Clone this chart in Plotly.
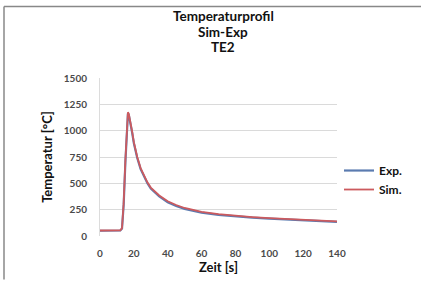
import plotly.graph_objects as go

time_s = [0, 5, 10, 12, 13, 14, 15, 16, 16.5, 17, 18, 19, 20, 22, 24, 26, 28, 30, 35, 40, 45, 50, 60, 70, 80, 90, 100, 110, 120, 130, 140]
exp_temp = [50, 50, 50, 52, 70, 300, 700, 1050, 1165, 1150, 1080, 980, 880, 740, 635, 560, 500, 450, 375, 320, 285, 258, 222, 200, 185, 174, 165, 157, 149, 142, 135]
sim_temp = [52, 52, 52, 54, 75, 320, 720, 1060, 1175, 1160, 1090, 990, 890, 750, 645, 570, 510, 460, 385, 330, 294, 266, 230, 207, 191, 180, 170, 161, 153, 146, 139]

title_lines = ["Temperaturprofil", "Sim-Exp", "TE2"]
x_ticks = [0, 20, 40, 60, 80, 100, 120, 140]
y_ticks = [0, 250, 500, 750, 1000, 1250, 1500]

W, H = 422, 282
L, R, T, B = 100, 337, 78, 238

def px(x):
    return (x - L) / (R - L)

def py(y):
    return (B - y) / (B - T)

fig = go.Figure()
fig.add_trace(go.Scatter(x=time_s, y=exp_temp, name="Exp.", mode="lines",
                         line=dict(color="#5b7bb0", width=2.2)))
fig.add_trace(go.Scatter(x=time_s, y=sim_temp, name="Sim.", mode="lines",
                         line=dict(color="#cc5a5e", width=1.8)))

tick_font = dict(family="Lato, Open Sans, sans-serif", size=10, color="#4a4a4a", weight="bold")
fig.update_xaxes(range=[0, 140], tickvals=x_ticks, showgrid=False, zeroline=False,
                 showline=False, ticks="", tickfont=tick_font, ticklabelstandoff=10,
                 title=dict(text="<b>Zeit [s]</b>", font=dict(family="Lato, sans-serif", size=13, color="#111"), standoff=2))
fig.update_yaxes(range=[0, 1500], tickvals=y_ticks, showgrid=True, gridcolor="#dadada", gridwidth=1,
                 zeroline=False, showline=True, linecolor="#dcdcdc", linewidth=1, ticks="",
                 tickfont=tick_font, ticklabelstandoff=10,
                 title=dict(text="<b>Temperatur [°C]</b>", font=dict(family="Lato, sans-serif", size=13, color="#111"), standoff=8))

title_y = [15, 31, 47]
for txt, yy in zip(title_lines, title_y):
    fig.add_annotation(text="<b>" + txt + "</b>", xref="paper", yref="paper",
                       x=px(223), y=py(yy), xanchor="center", yanchor="middle", showarrow=False,
                       font=dict(family="Lato, sans-serif", size=13.5, color="#111"))

fig.update_layout(
    width=W, height=H,
    margin=dict(l=L, r=W - R, t=T, b=H - B),
    paper_bgcolor="white", plot_bgcolor="white",
    legend=dict(x=px(339), y=py(157), xanchor="left", yanchor="top",
                font=dict(family="Lato, sans-serif", size=12, color="#111", weight="bold"),
                bgcolor="rgba(0,0,0,0)", itemwidth=30, tracegroupgap=2),
    showlegend=True,
)

# outer frame lines (top and left)
fig.add_shape(type="line", xref="paper", yref="paper", x0=px(4), x1=px(421), y0=py(5.5), y1=py(5.5),
              line=dict(color="#888", width=1.5))
fig.add_shape(type="line", xref="paper", yref="paper", x0=px(4), x1=px(4), y0=py(5.5), y1=py(282),
              line=dict(color="#888", width=1.5))

fig.write_html("out.html", config={"displayModeBar": False})

with open("out.html", "r", encoding="utf-8") as f:
    html = f.read()
html = html.replace("<head>", "<head><style>html,body{margin:0;padding:0;overflow:hidden;}</style>", 1)
with open("out.html", "w", encoding="utf-8") as f:
    f.write(html)
